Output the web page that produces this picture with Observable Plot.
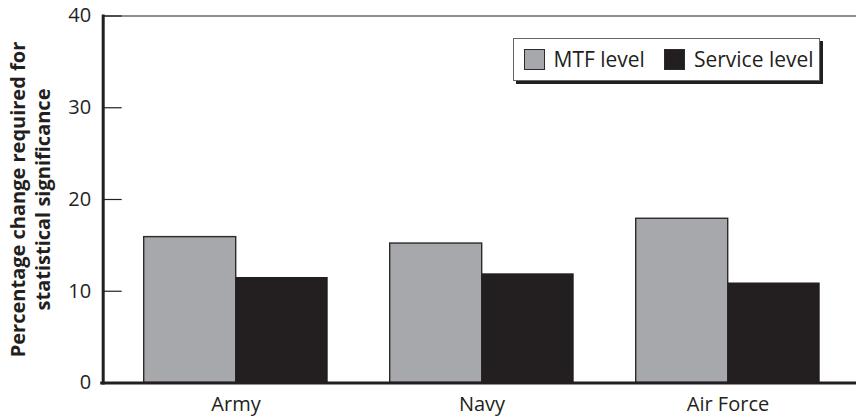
<!DOCTYPE html>
<html><head><meta charset="utf-8">
<script src="https://cdn.jsdelivr.net/npm/d3@7"></script>
<script src="https://cdn.jsdelivr.net/npm/@observablehq/plot@0.6"></script>
<style>
body{margin:0;background:#fff;}
#wrap{position:relative;width:856px;height:417px;font-family:"Open Sans",sans-serif;color:#231f20;}
.legend{position:absolute;left:512.5px;top:37.5px;width:305px;height:41px;border:1px solid #666;box-shadow:3px 3px 0 #231f20;background:#fff;display:flex;align-items:center;font-size:21px;}
.legend .item{display:flex;align-items:center;margin-left:10px;}
.legend .item + .item{margin-left:19px;}
.legend .sw{width:21px;height:21px;box-sizing:border-box;border:1.5px solid #2b2b2b;margin-right:9px;}
</style>
</head><body>
<div id="wrap"></div>
<script>
const categories = ["Army", "Navy", "Air Force"];
const seriesNames = ["MTF level", "Service level"];
const mtfValues = [15.9, 15.2, 17.9];
const serviceValues = [11.5, 11.9, 10.9];
const yTicks = [0, 10, 20, 30, 40];
const colors = ["#a7a8ab", "#231f20"];
const yLabel = "Percentage change required for\nstatistical significance";

const data = categories.flatMap((c, i) => [
  {category: c, series: seriesNames[0], value: mtfValues[i]},
  {category: c, series: seriesNames[1], value: serviceValues[i]}
]);

// the axis frame starts this far left of the first group of bars
const axisGap = 40.3;
const rightGap = 35;

const chart = Plot.plot({
  width: 856, height: 417,
  marginLeft: 102 + axisGap, marginRight: rightGap, marginTop: 15.5, marginBottom: 34.5,
  style: {fontFamily: "'Open Sans', sans-serif", fontSize: "20px", color: "#231f20", background: "#fff"},
  fx: {domain: categories, paddingInner: 0.25, paddingOuter: 0, label: null},
  x: {domain: seriesNames, padding: 0, axis: null},
  y: {domain: [0, 40], axis: null},
  marks: [
    Plot.barY(data.filter(d => d.series === seriesNames[0]), {fx: "category", x: "series", y: "value", fill: colors[0], stroke: "#2b2b2b", strokeWidth: 1.4}),
    Plot.barY(data.filter(d => d.series === seriesNames[1]), {fx: "category", x: "series", y: "value", fill: colors[1]}),
    Plot.axisFx({anchor: "bottom", tickSize: 0, tickPadding: 14, fontSize: 20, label: null}),
    Plot.axisY({ticks: yTicks, tickSize: 0, tickPadding: 12, fontSize: 20, label: null, dx: -axisGap}),
    Plot.axisY({ticks: yTicks, tickSize: -19, fill: "none", label: null, strokeWidth: 1.2, dx: -axisGap}),
    Plot.frame({anchor: "top", facet: "super", strokeWidth: 1.2, insetLeft: -axisGap, insetRight: -rightGap}),
    Plot.frame({anchor: "bottom", facet: "super", strokeWidth: 3, insetLeft: -axisGap - 1.5, insetRight: -rightGap}),
    Plot.frame({anchor: "left", facet: "super", strokeWidth: 3, insetLeft: -axisGap}),
    Plot.text([yLabel], {facet: "super", frameAnchor: "left", rotate: -90, dx: -114, fontWeight: "bold", fontSize: 20, lineHeight: 1.25, textAnchor: "middle"})
  ]
});
const wrap = document.getElementById("wrap");
wrap.appendChild(chart);

const legend = document.createElement("div");
legend.className = "legend";
seriesNames.forEach((s, i) => {
  const item = document.createElement("div");
  item.className = "item";
  const sw = document.createElement("span");
  sw.className = "sw";
  sw.style.background = colors[i];
  const t = document.createElement("span");
  t.textContent = s;
  item.appendChild(sw); item.appendChild(t);
  legend.appendChild(item);
});
wrap.appendChild(legend);
</script>
</body></html>
